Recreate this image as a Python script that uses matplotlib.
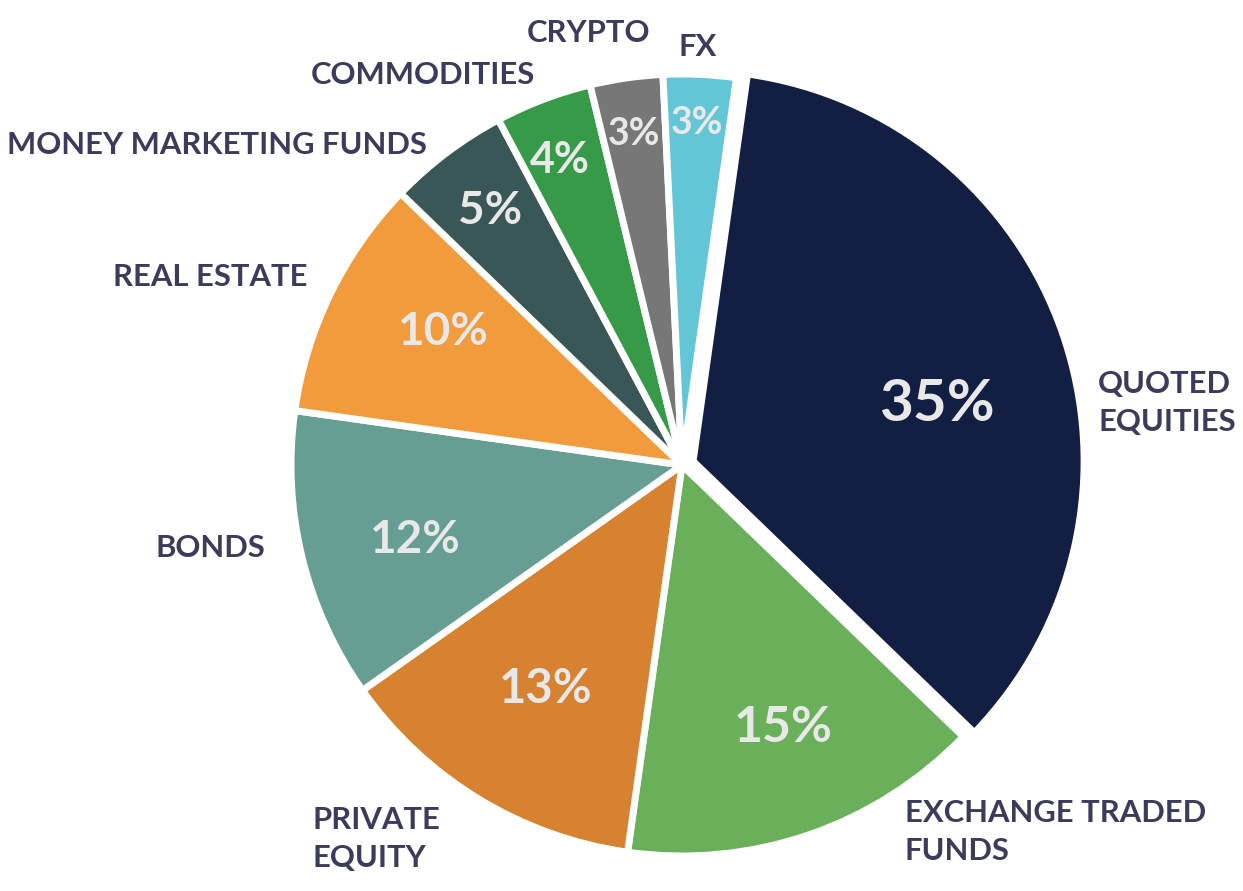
import numpy as np
import matplotlib
matplotlib.use("Agg")
import matplotlib.pyplot as plt

# Data
categories = ["QUOTED\nEQUITIES", "EXCHANGE TRADED\nFUNDS", "PRIVATE\nEQUITY", "BONDS",
              "REAL ESTATE", "MONEY MARKETING FUNDS", "COMMODITIES", "CRYPTO", "FX"]
shares = [35, 15, 13, 12, 10, 5, 4, 3, 3]
colors = ["#121f42", "#6ab05b", "#d78230", "#679e93", "#f29b3c",
          "#3a5758", "#369a49", "#777777", "#63c6d6"]

# Style for the % labels: distance from centre, angle nudge (deg), font size
pct_dist = [0.64, 0.72, 0.67, 0.71, 0.70, 0.815, 0.84, 0.855, 0.875]
pct_nudge = [-6, 2, 0, 2, -3, 0, 1, 0, 0]
pct_size = [42, 36, 34, 33, 33, 33, 31, 27, 27]
# outer category labels: anchor (data units, radius = 1) and alignment
label_pos = [(1.064, 0.159, "left"), (0.570, -0.939, "left"), (-0.946, -0.957, "left"),
             (-1.066, -0.212, "right"), (-0.957, 0.481, "right"), (-0.652, 0.818, "right"),
             (-0.376, 0.997, "right"), (-0.082, 1.105, "right"), (-0.010, 1.069, "left")]

plt.rcParams["font.family"] = ["Lato", "DejaVu Sans"]
LABEL_COLOR = "#3b3b5b"
PCT_COLOR = "#e8e8e8"

W, H = 1243, 891
CX, CY, R = 682, 465, 391
fig = plt.figure(figsize=(W / 100, H / 100), dpi=100)
ax = fig.add_axes([0, 0, 1, 1])

explode = [0.03] + [0] * (len(shares) - 1)
wedges, _ = ax.pie(shares, colors=colors, startangle=82, counterclock=False,
                   explode=explode, radius=1,
                   wedgeprops=dict(edgecolor="white", linewidth=5))

for w, v, d, dn, fs in zip(wedges, shares, pct_dist, pct_nudge, pct_size):
    mid = np.deg2rad((w.theta1 + w.theta2) / 2 + dn)
    x = w.center[0] + d * np.cos(mid)
    y = w.center[1] + d * np.sin(mid)
    ax.text(x, y, f"{v}%", ha="center", va="center", fontsize=fs,
            fontweight="bold", color=PCT_COLOR)

for name, (x, y, ha) in zip(categories, label_pos):
    ax.text(x, y, name, ha=ha, va="center", fontsize=22.3, fontweight="bold",
            color=LABEL_COLOR, linespacing=1.45)

ax.set_xlim(-CX / R, (W - CX) / R)
ax.set_ylim(-(H - CY) / R, CY / R)
ax.set_aspect("equal")
ax.axis("off")

fig.savefig("out.png", dpi=100, facecolor="white")
